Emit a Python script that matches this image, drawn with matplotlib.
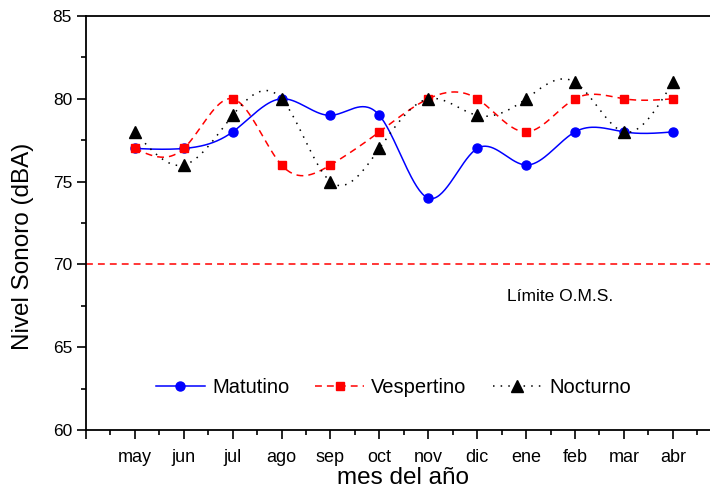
import numpy as np
import matplotlib
matplotlib.use('Agg')
import matplotlib.pyplot as plt
from matplotlib.ticker import MultipleLocator
from matplotlib.lines import Line2D

plt.rcParams['font.family'] = ['Liberation Sans', 'DejaVu Sans']

months = ['may', 'jun', 'jul', 'ago', 'sep', 'oct', 'nov', 'dic', 'ene', 'feb', 'mar', 'abr']
matutino = [77, 77, 78, 80, 79, 79, 74, 77, 76, 78, 78, 78]
vespertino = [77, 77, 80, 76, 76, 78, 80, 80, 78, 80, 80, 80]
nocturno = [78, 76, 79, 80, 75, 77, 80, 79, 80, 81, 78, 81]
limite = 70


def spline(x, y, n=400):
    # natural cubic spline, only for drawing the smooth connecting curve
    x = np.asarray(x, float)
    y = np.asarray(y, float)
    k = len(x)
    h = np.diff(x)
    A = np.zeros((k, k))
    b = np.zeros(k)
    A[0, 0] = A[-1, -1] = 1
    for i in range(1, k - 1):
        A[i, i - 1] = h[i - 1]
        A[i, i] = 2 * (h[i - 1] + h[i])
        A[i, i + 1] = h[i]
        b[i] = 6 * ((y[i + 1] - y[i]) / h[i] - (y[i] - y[i - 1]) / h[i - 1])
    M = np.linalg.solve(A, b)
    xs = np.linspace(x[0], x[-1], n)
    idx = np.clip(np.searchsorted(x, xs) - 1, 0, k - 2)
    x0, x1 = x[idx], x[idx + 1]
    hh = x1 - x0
    ys = (M[idx] * (x1 - xs) ** 3 / (6 * hh) + M[idx + 1] * (xs - x0) ** 3 / (6 * hh)
          + (y[idx] / hh - M[idx] * hh / 6) * (x1 - xs)
          + (y[idx + 1] / hh - M[idx + 1] * hh / 6) * (xs - x0))
    return xs, ys


fig = plt.figure(figsize=(7.10, 4.93), dpi=100)
ax = fig.add_axes([0.121, 0.128, 0.879, 0.8395])

x = np.arange(1, len(months) + 1)

series = [
    (matutino, 'Matutino', 'blue', '-', 'o', 6.5, 0.112),
    (vespertino, 'Vespertino', 'red', (0, (4.5, 3.3)), 's', 6.2, 0.367),
    (nocturno, 'Nocturno', 'black', (0, (1, 4)), '^', 8.6, 0.652),
]
for ys, name, col, ls, mk, ms, lx in series:
    sx, sy = spline(x, ys)
    ax.plot(sx, sy, color=col, linestyle=ls, lw=1.1)
    ax.plot(x, ys, linestyle='none', marker=mk, color=col, markersize=ms)
    h = Line2D([], [], color=col, linestyle=ls, lw=1.1, marker=mk, markersize=ms)
    leg = ax.legend([h], [name], loc='center left', bbox_to_anchor=(lx, 0.1014),
                    frameon=False, fontsize=14.5, handlelength=2.45,
                    handletextpad=0.35, borderpad=0, borderaxespad=0)
    ax.add_artist(leg)
    ax.legend_ = None

ax.axhline(limite, color='red', linestyle=(0, (4.5, 3.3)), lw=1.1)
ax.text(8.61, 68.03, 'Límite O.M.S.', fontsize=12.5, va='center')

ax.set_xlim(0, 12.76)
ax.set_ylim(60, 85)
ax.set_xticks(list(x) + [0])
ax.set_xticklabels(months + [''])
ax.xaxis.set_minor_locator(MultipleLocator(0.5))
ax.yaxis.set_major_locator(MultipleLocator(5))
ax.yaxis.set_minor_locator(MultipleLocator(2.5))
ax.tick_params(axis='both', which='major', direction='out', length=6.5, width=1.2)
ax.tick_params(axis='both', which='minor', direction='out', length=3.5, width=1.2)
ax.tick_params(axis='x', which='major', pad=7, labelsize=13)
ax.tick_params(axis='y', which='major', labelsize=12.5)

ax.spines['right'].set_visible(False)
for s in ['left', 'bottom', 'top']:
    ax.spines[s].set_linewidth(1.3)

fig.text(403 / 710, 1 - 478 / 493, 'mes del año', fontsize=17.5, ha='center', va='center')
fig.text(23 / 710, 1 - 246 / 493, 'Nivel Sonoro (dBA)', fontsize=17.5, ha='center',
         va='center', rotation=90)

fig.savefig('out.png', dpi=100)
